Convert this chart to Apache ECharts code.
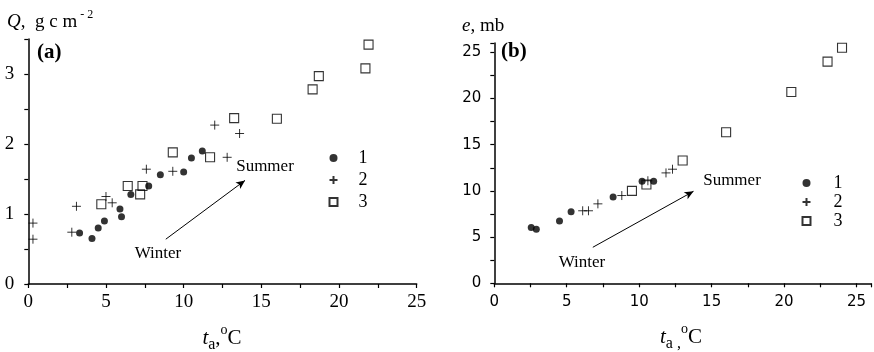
<!DOCTYPE html>
<html>
<head>
<meta charset="utf-8">
<script src="https://cdn.jsdelivr.net/npm/echarts@6.0.0/dist/echarts.min.js"></script>
<style>
  html, body { margin: 0; padding: 0; background: #fff; }
  #chart { width: 874px; height: 352px; }
</style>
</head>
<body>
<div id="chart"></div>
<script>
// (a) Q, g cm-2 vs air temperature
const aT1 = [3.3, 4.1, 4.5, 4.9, 5.9, 6.0, 6.6, 7.75, 8.5, 10.0, 10.5, 11.2];
const aQ1 = [0.73, 0.65, 0.80, 0.90, 1.07, 0.96, 1.28, 1.40, 1.56, 1.60, 1.80, 1.90];
const aT2 = [0.3, 0.3, 2.8, 3.1, 5.0, 5.4, 7.6, 9.3, 12.0, 12.8, 13.6];
const aQ2 = [0.87, 0.64, 0.74, 1.11, 1.25, 1.16, 1.64, 1.61, 2.27, 1.81, 2.15];
const aT3 = [4.7, 6.4, 7.2, 7.35, 9.3, 11.7, 13.25, 16.0, 18.3, 18.7, 21.7, 21.9];
const aQ3 = [1.14, 1.40, 1.28, 1.40, 1.88, 1.81, 2.37, 2.36, 2.78, 2.97, 3.08, 3.42];

// (b) e, mb vs air temperature
const bT1 = [2.55, 2.9, 4.5, 5.3, 8.2, 10.2, 11.0];
const bE1 = [6.05, 5.85, 6.75, 7.75, 9.35, 11.05, 11.05];
const bT2 = [6.1, 6.5, 7.15, 8.8, 10.6, 11.85, 12.3];
const bE2 = [7.85, 7.85, 8.6, 9.5, 11.1, 11.95, 12.35];
const bT3 = [9.5, 10.5, 13.0, 16.0, 20.5, 23.0, 24.0];
const bE3 = [10.0, 10.7, 13.3, 16.35, 20.7, 24.0, 25.5];

// Winter -> Summer arrows (data coords)
const aArrow = [[8.85, 0.64], [13.95, 1.48]];
const bArrow = [[6.8, 3.9], [13.75, 9.96]];

const seriesNames = ['1', '2', '3'];

const SERIF = '"Liberation Serif", "Times New Roman", serif';
const SANS = '"DejaVu Sans", sans-serif';
const PLUS = 'path://M0,5L10,5M5,0L5,10';

function zip(xs, ys) {
  return xs.map((x, i) => [x, ys[i]]);
}

// 三种标记样式
const markerStyles = [
  { symbol: 'circle', symbolSize: 7, itemStyle: { color: '#000' } },
  { symbol: PLUS, symbolSize: 9, itemStyle: { color: 'none', borderColor: '#000', borderWidth: 1 } },
  { symbol: 'rect', symbolSize: 9, itemStyle: { color: 'none', borderColor: '#000', borderWidth: 1.1 } }
];

function scatter(idx, axis, data) {
  return Object.assign({
    name: seriesNames[idx],
    type: 'scatter',
    xAxisIndex: axis,
    yAxisIndex: axis,
    data: data,
    emphasis: { disabled: true }
  }, markerStyles[idx]);
}

function arrow(axis, pts) {
  return {
    type: 'scatter',
    xAxisIndex: axis,
    yAxisIndex: axis,
    data: [],
    markLine: {
      silent: true,
      symbol: ['none', 'arrow'],
      symbolSize: [6, 9],
      lineStyle: { color: '#000', width: 1, type: 'solid' },
      label: { show: false },
      data: [[{ coord: pts[0] }, { coord: pts[1] }]]
    }
  };
}

function axisCommon(font, size) {
  return {
    axisLine: { show: true, onZero: false, lineStyle: { color: '#000', width: 1.5 } },
    axisTick: { show: true, inside: false, length: 4, lineStyle: { color: '#000', width: 1.2 } },
    splitLine: { show: false },
    axisLabel: { color: '#000', fontFamily: font, fontSize: size }
  };
}

function mergeAxis(base, extra) {
  const out = Object.assign({}, base, extra);
  out.axisLabel = Object.assign({}, base.axisLabel, extra.axisLabel || {});
  return out;
}

const serifAxis = axisCommon(SERIF, 19);
const sansAxis = axisCommon(SANS, 15);

const chart = echarts.init(document.getElementById('chart'), null, { renderer: 'canvas' });

const option = {
  animation: false,
  backgroundColor: '#fff',
  grid: [
    { left: 28.3, top: 39, width: 388.4, height: 245 },
    { left: 494.3, top: 43.1, width: 381.4, height: 240.2 }
  ],
  xAxis: [
    mergeAxis(serifAxis, {
      gridIndex: 0, type: 'value', min: 0, max: 25, interval: 2.5,
      axisLabel: { margin: 9, formatter: v => (v % 5 === 0 ? String(v) : '') }
    }),
    mergeAxis(sansAxis, {
      gridIndex: 1, type: 'value', min: 0, max: 26, interval: 2.5,
      axisLabel: { margin: 11, formatter: v => (v % 5 === 0 ? String(v) : '') }
    })
  ],
  yAxis: [
    mergeAxis(serifAxis, {
      gridIndex: 0, type: 'value', min: 0, max: 3.5, interval: 0.5,
      axisLabel: { margin: 14, formatter: v => (Number.isInteger(v) ? String(v) : '') }
    }),
    mergeAxis(sansAxis, {
      gridIndex: 1, type: 'value', min: 0, max: 26, interval: 2.5,
      axisLabel: { margin: 13, formatter: v => (v % 5 === 0 ? String(v) : '') }
    })
  ],
  legend: [
    {
      data: seriesNames, orient: 'vertical', left: 327, top: 149, padding: 0,
      itemWidth: 8, itemHeight: 8, itemGap: 4, selectedMode: false,
      textStyle: { fontFamily: SERIF, fontSize: 18, color: '#000', padding: [0, 0, 0, 16], lineHeight: 17 }
    },
    {
      data: seriesNames, orient: 'vertical', left: 800, top: 174, padding: 0,
      itemWidth: 8, itemHeight: 8, itemGap: 1, selectedMode: false,
      textStyle: { fontFamily: SERIF, fontSize: 18, color: '#000', padding: [0, 0, 0, 18], lineHeight: 17 }
    }
  ],
  graphic: [
    // 面板标签
    { type: 'text', x: 37, y: 53, style: { text: '(a)', font: 'bold 21px ' + SERIF, fill: '#000', verticalAlign: 'middle' } },
    { type: 'text', x: 501, y: 52, style: { text: '(b)', font: 'bold 21px ' + SERIF, fill: '#000', verticalAlign: 'middle' } },
    // y 轴标题
    {
      type: 'text', x: 7, y: 22,
      style: {
        text: '{i|Q}{n|,  g c m}{s| - 2}', verticalAlign: 'middle', fill: '#000',
        rich: {
          i: { fontFamily: SERIF, fontStyle: 'italic', fontSize: 19, lineHeight: 26 },
          n: { fontFamily: SERIF, fontSize: 19, lineHeight: 26 },
          s: { fontFamily: SERIF, fontSize: 12, lineHeight: 12, verticalAlign: 'top' }
        }
      }
    },
    {
      type: 'text', x: 462, y: 26,
      style: {
        text: '{i|e}{n|, mb}', verticalAlign: 'middle', fill: '#000',
        rich: {
          i: { fontFamily: SERIF, fontStyle: 'italic', fontSize: 19 },
          n: { fontFamily: SERIF, fontSize: 19 }
        }
      }
    },
    // x 轴标题
    {
      type: 'text', x: 222, y: 338,
      style: {
        text: '{i|t}{sb|a}{n|,}{sp|o}{n|C}', align: 'center', verticalAlign: 'middle', fill: '#000',
        rich: {
          i: { fontFamily: SERIF, fontStyle: 'italic', fontSize: 21, lineHeight: 30 },
          n: { fontFamily: SERIF, fontSize: 21, lineHeight: 30 },
          sb: { fontFamily: SERIF, fontSize: 16, lineHeight: 16, verticalAlign: 'bottom' },
          sp: { fontFamily: SERIF, fontSize: 14, lineHeight: 14, verticalAlign: 'top' }
        }
      }
    },
    {
      type: 'text', x: 681, y: 337,
      style: {
        text: '{i|t}{sb|a ,}{sp|o}{n|C}', align: 'center', verticalAlign: 'middle', fill: '#000',
        rich: {
          i: { fontFamily: SERIF, fontStyle: 'italic', fontSize: 21, lineHeight: 30 },
          n: { fontFamily: SERIF, fontSize: 21, lineHeight: 30 },
          sb: { fontFamily: SERIF, fontSize: 16, lineHeight: 16, verticalAlign: 'bottom' },
          sp: { fontFamily: SERIF, fontSize: 14, lineHeight: 14, verticalAlign: 'top' }
        }
      }
    },
    // Summer / Winter
    { type: 'text', x: 265, y: 167, style: { text: 'Summer', font: '17px ' + SERIF, fill: '#000', align: 'center', verticalAlign: 'middle' } },
    { type: 'text', x: 158, y: 254, style: { text: 'Winter', font: '17px ' + SERIF, fill: '#000', align: 'center', verticalAlign: 'middle' } },
    { type: 'text', x: 732, y: 181, style: { text: 'Summer', font: '17px ' + SERIF, fill: '#000', align: 'center', verticalAlign: 'middle' } },
    { type: 'text', x: 582, y: 263, style: { text: 'Winter', font: '17px ' + SERIF, fill: '#000', align: 'center', verticalAlign: 'middle' } }
  ],
  series: [
    scatter(0, 0, zip(aT1, aQ1)),
    scatter(1, 0, zip(aT2, aQ2)),
    scatter(2, 0, zip(aT3, aQ3)),
    scatter(0, 1, zip(bT1, bE1)),
    scatter(1, 1, zip(bT2, bE2)),
    scatter(2, 1, zip(bT3, bE3)),
    arrow(0, aArrow),
    arrow(1, bArrow)
  ]
};

chart.setOption(option);
</script>
</body>
</html>
